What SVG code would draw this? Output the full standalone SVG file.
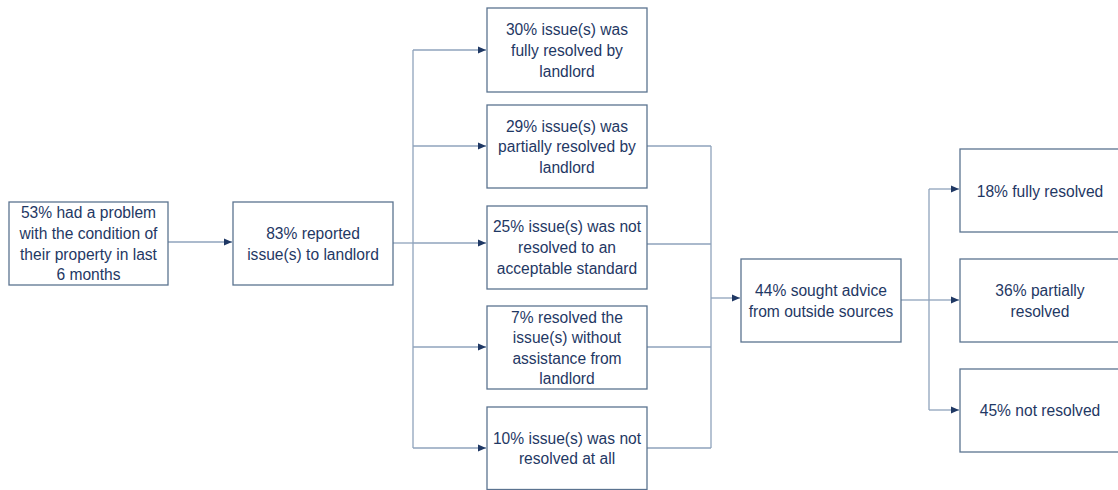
<svg xmlns="http://www.w3.org/2000/svg" width="1118" height="490" viewBox="0 0 1118 490">
<defs>
<style>
.box{fill:#ffffff;stroke:#5b7390;stroke-width:1.3}
.t{font-family:"Liberation Sans",Arial,sans-serif;font-size:15.6px;fill:#1f3864;text-anchor:middle}
.ln{fill:none;stroke:#8fa3bc;stroke-width:1.3}
.ar{fill:none;stroke:#8fa3bc;stroke-width:1.3;marker-end:url(#ah)}
</style>
<marker id="ah" markerUnits="userSpaceOnUse" markerWidth="9" markerHeight="8" refX="8" refY="4" orient="auto">
<path d="M0,0.5 L8,4 L0,7.5 Z" fill="#1f3864"/>
</marker>
</defs>
<rect width="1118" height="490" fill="#ffffff"/>
<g id="connectors">
<path class="ar" d="M168,242 H232"/>
<path class="ln" d="M393,243 H413"/>
<path class="ln" d="M413,50 V448"/>
<path class="ar" d="M413,50 H486"/>
<path class="ar" d="M413,146 H486"/>
<path class="ar" d="M413,243 H486"/>
<path class="ar" d="M413,347 H486"/>
<path class="ar" d="M413,448 H486"/>
<path class="ln" d="M647,146 H711 M647,244 H711 M647,347 H711 M647,448 H711"/>
<path class="ln" d="M711,146 V448"/>
<path class="ar" d="M711,298 H740"/>
<path class="ln" d="M901,300 H929"/>
<path class="ln" d="M929,189 V410"/>
<path class="ar" d="M929,189 H959"/>
<path class="ar" d="M929,300 H959"/>
<path class="ar" d="M929,410 H959"/>
</g>
<g id="n1"><rect class="box" x="9" y="202" width="159" height="83"/>
<text class="t" x="88.5" y="218">53% had a problem</text>
<text class="t" x="88.5" y="238.5">with the condition of</text>
<text class="t" x="88.5" y="259.5">their property in last</text>
<text class="t" x="88.5" y="280">6 months</text></g>
<g id="n2"><rect class="box" x="233" y="202" width="160" height="83"/>
<text class="t" x="313" y="238.5">83% reported</text>
<text class="t" x="313" y="259.5">issue(s) to landlord</text></g>
<g id="nA"><rect class="box" x="487" y="8" width="160" height="84"/>
<text class="t" x="567" y="34.5">30% issue(s) was</text>
<text class="t" x="567" y="55.5">fully resolved by</text>
<text class="t" x="567" y="76.5">landlord</text></g>
<g id="nB"><rect class="box" x="487" y="105" width="160" height="83"/>
<text class="t" x="567" y="131.5">29% issue(s) was</text>
<text class="t" x="567" y="152">partially resolved by</text>
<text class="t" x="567" y="172.5">landlord</text></g>
<g id="nC"><rect class="box" x="487" y="206" width="160" height="83"/>
<text class="t" x="567" y="231.5">25% issue(s) was not</text>
<text class="t" x="567" y="252.5">resolved to an</text>
<text class="t" x="567" y="273.5">acceptable standard</text></g>
<g id="nD"><rect class="box" x="487" y="306" width="160" height="83"/>
<text class="t" x="567" y="322.5">7% resolved the</text>
<text class="t" x="567" y="343">issue(s) without</text>
<text class="t" x="567" y="363.5">assistance from</text>
<text class="t" x="567" y="384">landlord</text></g>
<g id="nE"><rect class="box" x="487" y="407" width="160" height="82.5"/>
<text class="t" x="567" y="443.5">10% issue(s) was not</text>
<text class="t" x="567" y="464">resolved at all</text></g>
<g id="nF"><rect class="box" x="741" y="259" width="160" height="83"/>
<text class="t" x="821" y="295.5">44% sought advice</text>
<text class="t" x="821" y="316.5">from outside sources</text></g>
<g id="nG"><rect class="box" x="960" y="149" width="160" height="83"/>
<text class="t" x="1040" y="196.5">18% fully resolved</text></g>
<g id="nH"><rect class="box" x="960" y="259" width="160" height="83"/>
<text class="t" x="1040" y="295.5">36% partially</text>
<text class="t" x="1040" y="316.5">resolved</text></g>
<g id="nI"><rect class="box" x="960" y="369" width="160" height="83"/>
<text class="t" x="1040" y="415.5">45% not resolved</text></g>
</svg>
